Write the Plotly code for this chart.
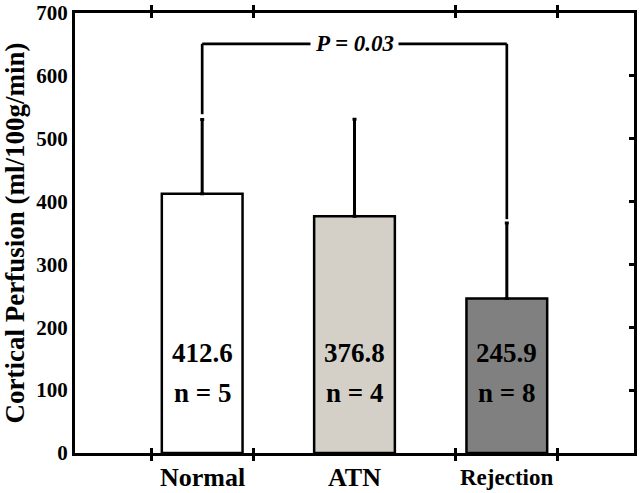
import plotly.graph_objects as go

categories = ["Normal", "ATN", "Rejection"]
means = [412.6, 376.8, 245.9]
errors = [118, 154, 120]
n_values = [5, 4, 8]
bar_colors = ["#FFFFFF", "#D4D0C8", "#808080"]
label_sizes = [26, 26, 23]
y_ticks = [0, 100, 200, 300, 400, 500, 600, 700]
x_minor_ticks = [-0.335, 0.335, 1.665, 2.335]
p_text = "P = 0.03"
bracket_y = 651
bracket_left_end = 539
bracket_right_end = 372

FONT = "Liberation Serif, Times New Roman, Times, serif"
xpos = list(range(len(categories)))

fig = go.Figure()
fig.add_trace(go.Bar(
    x=xpos, y=means, width=0.53,
    marker=dict(color=bar_colors, line=dict(color="black", width=2.5)),
    error_y=dict(type="data", symmetric=False, array=errors,
                 arrayminus=[0] * len(errors), color="black", thickness=3, width=2),
    showlegend=False, hoverinfo="skip",
))
# invisible trace to activate right-side axis
fig.add_trace(go.Scatter(x=[0], y=[0], yaxis="y2", mode="markers",
                         marker=dict(opacity=0), showlegend=False, hoverinfo="skip"))

# value and n labels
for i, (m, n) in enumerate(zip(means, n_values)):
    fig.add_annotation(x=xpos[i], y=159, text=f"<b>{m:.1f}</b>", showarrow=False,
                       font=dict(family=FONT, size=27, color="black"), yanchor="middle")
    fig.add_annotation(x=xpos[i], y=95, text=f"<b>n = {n}</b>", showarrow=False,
                       font=dict(family=FONT, size=27, color="black"), yanchor="middle")
    fig.add_annotation(x=xpos[i], y=0, yref="paper", yshift=-24, text=f"<b>{categories[i]}</b>",
                       showarrow=False, yanchor="middle",
                       font=dict(family=FONT, size=label_sizes[i], color="black"))

# significance bracket
lw = 2.7
fig.add_shape(type="line", x0=xpos[0], x1=xpos[0], y0=bracket_left_end, y1=bracket_y,
              line=dict(color="black", width=lw))
fig.add_shape(type="line", x0=xpos[0], x1=xpos[2], y0=bracket_y, y1=bracket_y,
              line=dict(color="black", width=lw))
fig.add_shape(type="line", x0=xpos[2], x1=xpos[2], y0=bracket_right_end, y1=bracket_y,
              line=dict(color="black", width=lw))
fig.add_annotation(x=xpos[1], y=bracket_y, text=f"<b><i>{p_text}</i></b>", showarrow=False,
                   bgcolor="white", borderpad=4, xanchor="center", yanchor="middle",
                   font=dict(family=FONT, size=23, color="black"))

fig.update_layout(
    width=640, height=493,
    margin=dict(l=75, r=6, t=13, b=40, autoexpand=False),
    paper_bgcolor="white", plot_bgcolor="white",
    font=dict(family=FONT, color="black"),
    xaxis=dict(range=[-0.835, 2.835], tickvals=x_minor_ticks, ticks="inside", ticklen=5,
               tickwidth=2.5, tickcolor="black", showticklabels=False, showgrid=False,
               zeroline=False, showline=True, linewidth=3, linecolor="black", mirror="allticks",
               automargin=False),
    yaxis=dict(range=[0, 700], tickvals=y_ticks, ticktext=[f"<b>{v}</b>" for v in y_ticks],
               ticks="", showgrid=False, zeroline=False, showline=True, linewidth=3,
               linecolor="black", mirror=True, ticklabeloverflow="allow", automargin=False,
               tickfont=dict(family=FONT, size=21, color="black"),
               title=dict(text="<b>Cortical Perfusion (ml/100g/min)</b>",
                          font=dict(family=FONT, size=27, color="black"), standoff=6)),
    yaxis2=dict(range=[0, 700], overlaying="y", side="right", tickvals=y_ticks,
                ticks="inside", ticklen=5, tickwidth=2.5, tickcolor="black", automargin=False,
                showticklabels=False, showgrid=False, zeroline=False, showline=False),
)

fig.write_html("out.html", config={"displayModeBar": False},
               post_script="document.body.style.margin='0';document.body.style.overflow='hidden';")
